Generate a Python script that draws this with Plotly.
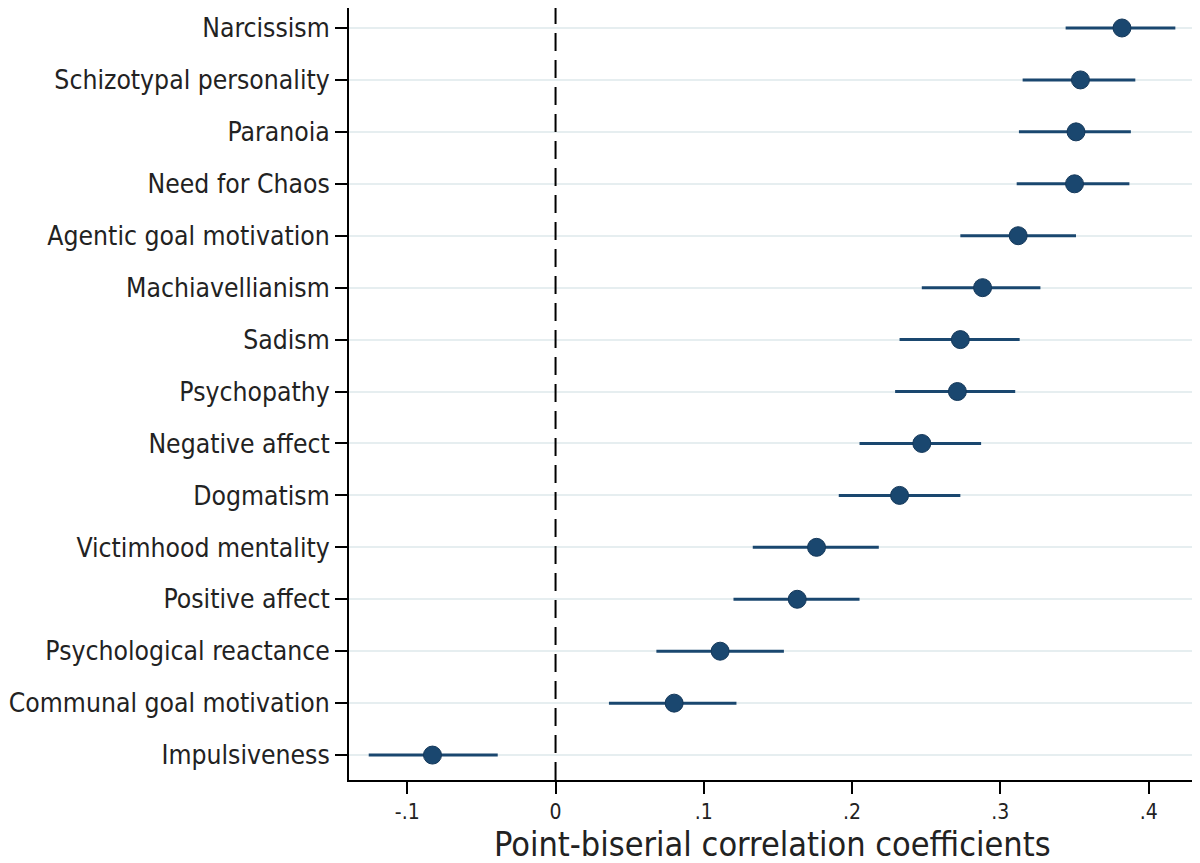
import plotly.graph_objects as go

categories = ["Narcissism", "Schizotypal personality", "Paranoia", "Need for Chaos",
              "Agentic goal motivation", "Machiavellianism", "Sadism", "Psychopathy",
              "Negative affect", "Dogmatism", "Victimhood mentality", "Positive affect",
              "Psychological reactance", "Communal goal motivation", "Impulsiveness"]
estimate = [0.382, 0.354, 0.351, 0.350, 0.312, 0.288, 0.273, 0.271, 0.247, 0.232,
            0.176, 0.163, 0.111, 0.080, -0.083]
ci_low = [0.344, 0.315, 0.3125, 0.311, 0.273, 0.247, 0.232, 0.229, 0.205, 0.191,
          0.133, 0.120, 0.068, 0.036, -0.126]
ci_high = [0.418, 0.391, 0.388, 0.387, 0.351, 0.327, 0.313, 0.310, 0.287, 0.273,
           0.218, 0.205, 0.154, 0.122, -0.039]
x_tickvals = [-0.1, 0, 0.1, 0.2, 0.3, 0.4]
x_ticktext = ["-.1", "0", ".1", ".2", ".3", ".4"]
x_title = "Point-biserial correlation coefficients"

navy = "#1a476f"
order = list(reversed(categories))

ex, ey = [], []
for c, lo, hi in zip(categories, ci_low, ci_high):
    ex += [lo, hi, None]
    ey += [c, c, None]

fig = go.Figure()
fig.add_trace(go.Scatter(x=ex, y=ey, mode="lines", line=dict(color=navy, width=3),
                         hoverinfo="skip", showlegend=False))
fig.add_trace(go.Scatter(x=estimate, y=categories, mode="markers",
                         marker=dict(color=navy, size=18, line=dict(color="#14385a", width=1)),
                         showlegend=False))

fig.add_vline(x=0, line=dict(color="black", width=2, dash="18px,9px"))

font_fam = "DejaVu Sans Condensed, Liberation Sans, sans-serif"
# page has an 8px body margin; figure is sized/offset to compensate
plot_w, plot_h = 848, 772
fig.add_annotation(text=x_title, xref="paper", yref="paper", x=(772 - 349) / plot_w,
                   y=-(836 - 772) / plot_h, xanchor="center", yanchor="middle",
                   showarrow=False, font=dict(size=34, family=font_fam, color="#222222"))

fig.update_layout(
    width=1192, height=855,
    margin=dict(l=341, r=3, t=0, b=83),
    plot_bgcolor="white", paper_bgcolor="white",
    font=dict(family=font_fam, color="#222222"),
    xaxis=dict(range=[-0.1393, 0.4326], tickvals=x_tickvals, ticktext=x_ticktext,
               automargin=False,
               showgrid=False, zeroline=False, showline=True, linecolor="black", linewidth=2,
               ticks="outside", ticklen=12, tickwidth=2, tickcolor="black",
               tickfont=dict(size=21, family=font_fam, color="#222222")),
    yaxis=dict(type="category", categoryorder="array", categoryarray=order,
               automargin=False,
               range=[-0.48, 14.385], showgrid=True, gridcolor="#e6eef0", gridwidth=2,
               zeroline=False, showline=True, linecolor="black", linewidth=2,
               ticks="outside", ticklen=12, tickwidth=2, tickcolor="black",
               tickfont=dict(size=26.3, family=font_fam, color="#222222")),
)

fig.write_html("out.html")
